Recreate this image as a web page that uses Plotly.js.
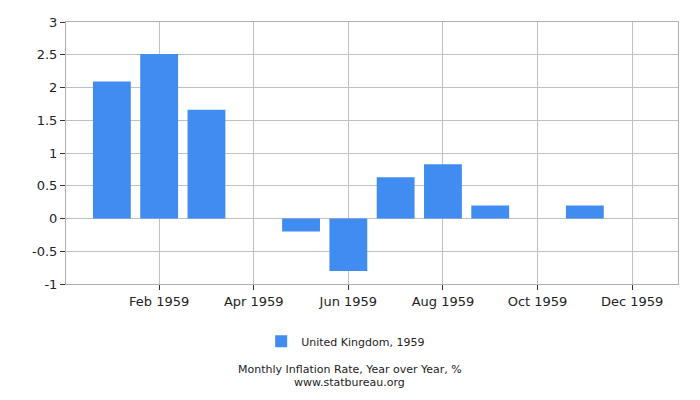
<!DOCTYPE html>
<html>
<head>
<meta charset="utf-8">
<script src="https://cdn.plot.ly/plotly-3.0.1.min.js"></script>
<style>
  html, body { margin: 0; padding: 0; background: #fff; }
  #chart { width: 700px; height: 400px; }
</style>
</head>
<body>
<div id="chart"></div>
<script>
// Months of 1959, one evenly spaced bar per month
let months = ['Jan 1959', 'Feb 1959', 'Mar 1959', 'Apr 1959', 'May 1959', 'Jun 1959',
              'Jul 1959', 'Aug 1959', 'Sep 1959', 'Oct 1959', 'Nov 1959', 'Dec 1959'];
let rates = [2.09, 2.51, 1.66, 0, -0.2, -0.8, 0.63, 0.83, 0.2, 0, 0.2, 0];
let xTicks = ['Feb 1959', 'Apr 1959', 'Jun 1959', 'Aug 1959', 'Oct 1959', 'Dec 1959'];
let yTicks = [-1, -0.5, 0, 0.5, 1, 1.5, 2, 2.5, 3];
let yTickText = ['-1', '-0.5', '0', '0.5', '1', '1.5', '2', '2.5', '3'];
let seriesName = 'United Kingdom, 1959';

function createBarChart(elementId) {
    let trace = {
        x: months,
        y: rates,
        type: 'bar',
        name: seriesName,
        width: 0.8,
        marker: { color: '#418cf0' },
        hoverinfo: 'x+y'
    };
    let data = [trace];

    // Layout of the chart
    let layout = {
        width: 700,
        height: 400,
        font: { family: 'DejaVu Sans, Verdana, sans-serif', size: 13, color: '#222' },
        paper_bgcolor: '#fff',
        plot_bgcolor: '#fff',
        showlegend: true,
        legend: {
            orientation: 'h',
            x: 0.457,
            xanchor: 'center',
            y: -0.163,
            yanchor: 'top',
            itemwidth: 30,
            font: { size: 11 }
        },
        margin: { l: 66, r: 22, t: 22, b: 116, autoexpand: false },
        xaxis: {
            type: 'category',
            range: [-0.97, 11.97],
            tickvals: xTicks,
            ticktext: xTicks,
            tickangle: 0,
            showgrid: true,
            gridcolor: '#c0c0c0',
            showline: true,
            linecolor: '#b0b0b0',
            mirror: true,
            ticks: 'outside',
            ticklen: 5,
            tickcolor: '#333',
            zeroline: false,
            fixedrange: true
        },
        yaxis: {
            range: [-1, 3],
            tickvals: yTicks,
            ticktext: yTickText,
            showgrid: true,
            gridcolor: '#c0c0c0',
            showline: true,
            linecolor: '#b0b0b0',
            mirror: true,
            ticks: 'outside',
            ticklen: 5,
            tickcolor: '#333',
            zeroline: false,
            fixedrange: true
        },
        annotations: [
            {
                text: 'Monthly Inflation Rate, Year over Year, %',
                xref: 'paper', yref: 'paper', x: 0.464, y: -0.328,
                xanchor: 'center', yanchor: 'middle', showarrow: false,
                font: { size: 11 }
            },
            {
                text: 'www.statbureau.org',
                xref: 'paper', yref: 'paper', x: 0.464, y: -0.376,
                xanchor: 'center', yanchor: 'middle', showarrow: false,
                font: { size: 11 }
            }
        ]
    };

    // General chart configuration
    let config = { displayModeBar: false, staticPlot: true };

    Plotly.newPlot(document.getElementById(elementId), data, layout, config);
}

createBarChart('chart');
</script>
</body>
</html>
